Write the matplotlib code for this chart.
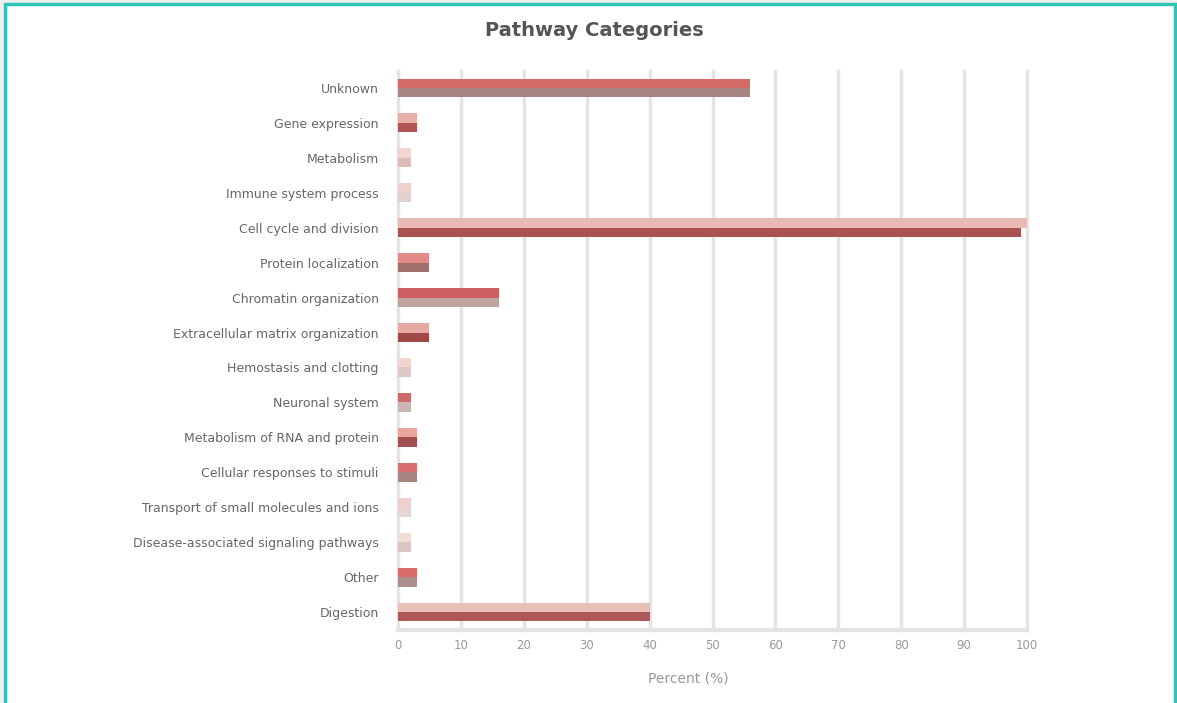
import numpy as np
import matplotlib
matplotlib.use("Agg")
import matplotlib.pyplot as plt
from matplotlib.patches import Rectangle

# categories, top to bottom
categories = [
    "Unknown",
    "Gene expression",
    "Metabolism",
    "Immune system process",
    "Cell cycle and division",
    "Protein localization",
    "Chromatin organization",
    "Extracellular matrix organization",
    "Hemostasis and clotting",
    "Neuronal system",
    "Metabolism of RNA and protein",
    "Cellular responses to stimuli",
    "Transport of small molecules and ions",
    "Disease-associated signaling pathways",
    "Other",
    "Digestion",
]
series_a = [56, 3, 2, 2, 100, 5, 16, 5, 2, 2, 3, 3, 2, 2, 3, 40]
series_b = [56, 3, 2, 2, 99, 5, 16, 5, 2, 2, 3, 3, 2, 2, 3, 40]

colors_a = ["#d46a68", "#e8b0a8", "#f0d5d0", "#f0d0cc", "#e8bab3", "#e38c87",
            "#cc6060", "#e6a8a3", "#f2d4d0", "#cd6a6a", "#e9a59e", "#d97070",
            "#efd0cc", "#f2dcd8", "#d96a6a", "#e8c0b8"]
colors_b = ["#a88580", "#b05555", "#d9bcb8", "#e0d0d0", "#a85252", "#a0706a",
            "#bfa3a0", "#a04848", "#dcc8c5", "#c9b5b2", "#a05050", "#a88580",
            "#e5d5d5", "#dac5c2", "#ad8e8a", "#b05858"]

x_ticks = list(range(0, 101, 10))

fig = plt.figure(figsize=(11.77, 7.03), dpi=100)
fig.patch.set_facecolor("#eef0f0")
# white card with teal border
card = Rectangle((5 / 1177, -0.05), 1170 / 1177, 1.05 - 4 / 703,
                 transform=fig.transFigure, facecolor="white",
                 edgecolor="#2ec4b6", linewidth=2.5)
card.set_zorder(-10)
fig.add_artist(card)

ax = fig.add_axes([398 / 1177, 1 - 629.5 / 703, 629 / 1177, 559 / 703])
ax.set_zorder(5)
ax.set_facecolor("none")

y = np.arange(len(categories))
h = 0.27
ax.barh(y - h / 2, series_a, height=h, color=colors_a, zorder=3)
ax.barh(y + h / 2, series_b, height=h, color=colors_b, zorder=3)

ax.set_ylim(len(categories) - 0.5, -0.5)
ax.set_xlim(0, 100)
ax.set_xticks(x_ticks)
ax.set_xticklabels([str(t) for t in x_ticks], fontsize=8.5, color="#999999")
ax.set_yticks(y)
ax.set_yticklabels(categories, fontsize=9, color="#666666")
ax.tick_params(axis="both", length=0, pad=14)
ax.tick_params(axis="x", pad=7)

ax.grid(axis="x", color="#e4e4e4", linewidth=2.5, zorder=0)
for gl in ax.get_xgridlines():
    gl.set_clip_on(False)
for side in ["top", "right", "left"]:
    ax.spines[side].set_visible(False)
ax.spines["bottom"].set_color("#e4e4e4")
ax.spines["bottom"].set_linewidth(3)

ax.set_xlabel("Percent (%)", fontsize=10, color="#999999", labelpad=10)
ax.xaxis.set_label_coords((688 - 398) / 629, -0.075)
fig.text(594 / 1177, 1 - 31 / 703, "Pathway Categories", ha="center",
         va="center", fontsize=14, fontweight="bold", color="#555555")

fig.savefig("out.png", dpi=100)
